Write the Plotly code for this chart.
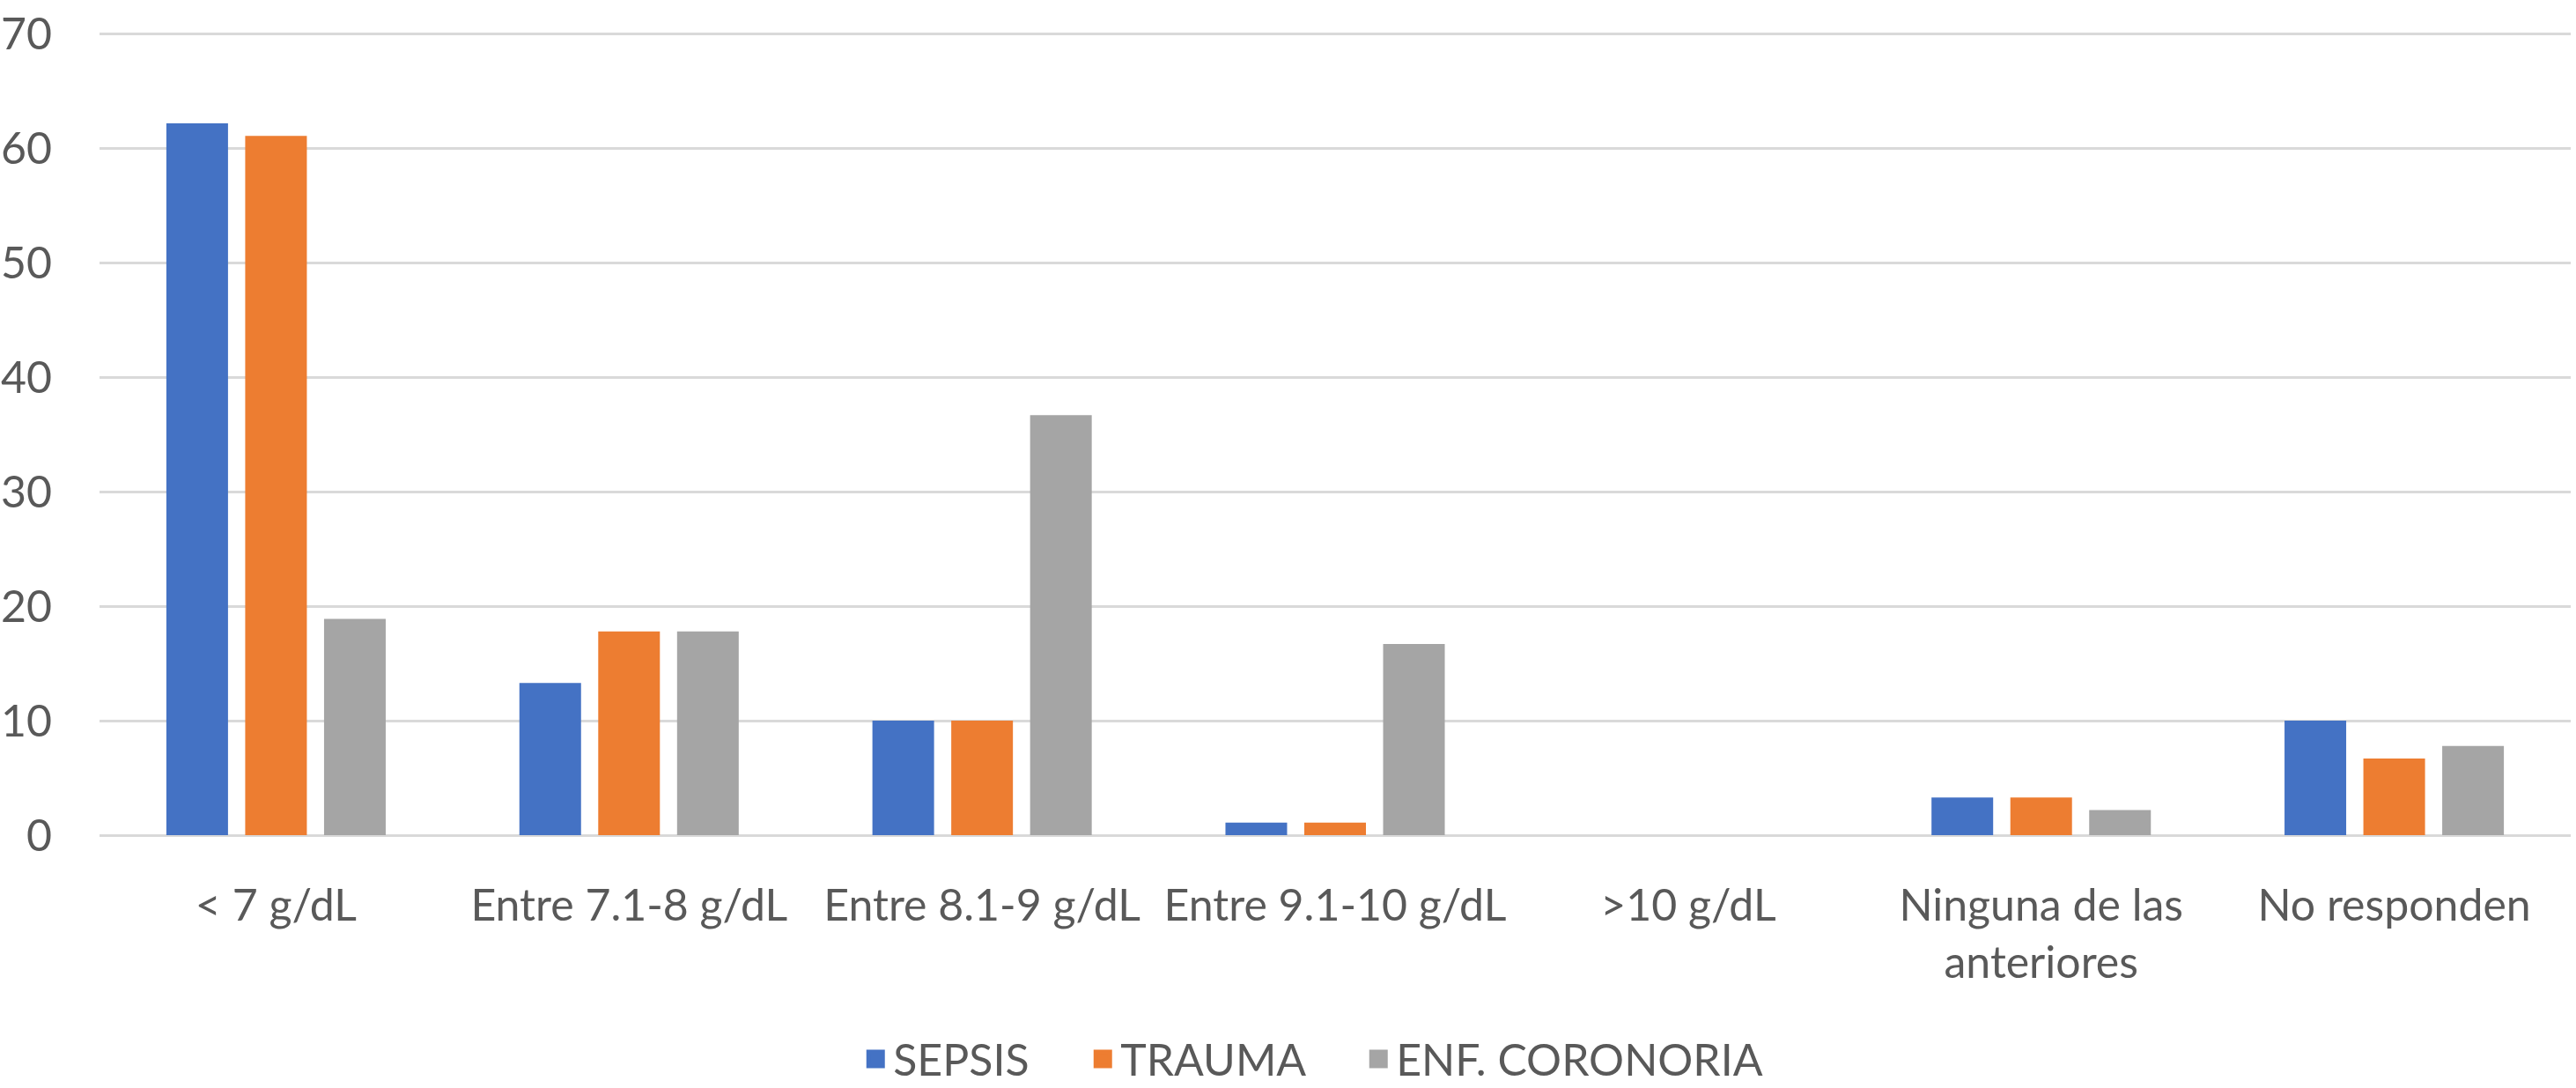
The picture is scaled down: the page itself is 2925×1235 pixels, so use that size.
import plotly.graph_objects as go

categories = ["< 7 g/dL", "Entre 7.1-8 g/dL", "Entre 8.1-9 g/dL", "Entre 9.1-10 g/dL",
              ">10 g/dL", "Ninguna de las<br>anteriores", "No responden"]
sepsis = [62.2, 13.3, 10.0, 1.1, 0, 3.3, 10.0]
trauma = [61.1, 17.8, 10.0, 1.1, 0, 3.3, 6.7]
coronaria = [18.9, 17.8, 36.7, 16.7, 0, 2.2, 7.8]
series_names = ["SEPSIS", "TRAUMA", "ENF. CORONORIA"]
colors = ["#4472C4", "#ED7D31", "#A5A5A5"]
legend_widths = [213, 268, None]
y_ticks = [0, 10, 20, 30, 40, 50, 60, 70]

FONT = "Lato"
TXT = "#595959"
FS = 50

fig = go.Figure()
for name, vals, col in zip(series_names, [sepsis, trauma, coronaria], colors):
    fig.add_trace(go.Bar(x=categories, y=vals, name=name, showlegend=False,
                         marker=dict(color=col, line=dict(width=0))))

# legend entries (square swatches)
for name, col, lw in zip(series_names, colors, legend_widths):
    kw = dict(legendwidth=lw) if lw else {}
    fig.add_trace(go.Scatter(x=[None], y=[None], mode="markers", name=name, showlegend=True,
                             marker=dict(symbol="square", size=16, color=col,
                                         line=dict(color=col, width=5)),
                             hoverinfo="skip", **kw))

fig.update_layout(
    width=2925, height=1235,
    paper_bgcolor="white", plot_bgcolor="white",
    barmode="group", bargap=0.33, bargroupgap=0.218,
    margin=dict(l=113, r=6, t=36, b=287, autoexpand=False),
    font=dict(family=FONT, size=FS, color=TXT),
    showlegend=True,
    legend=dict(orientation="h", x=0.491, xanchor="center",
                y=-0.2785, yanchor="middle",
                font=dict(family=FONT, size=FS, color=TXT), itemwidth=30,
                bgcolor="rgba(0,0,0,0)"),
)
fig.update_xaxes(showgrid=False, showline=False, zeroline=False, ticks="",
                 tickfont=dict(family=FONT, size=FS, color=TXT), ticklabelstandoff=46,
                 automargin=False, tickangle=0)
fig.update_yaxes(range=[0, 70.2], tickvals=y_ticks, showgrid=True, gridcolor="#D9D9D9", gridwidth=3,
                 zeroline=True, zerolinecolor="#D9D9D9", zerolinewidth=3, showline=False,
                 tickfont=dict(family=FONT, size=FS, color=TXT), ticks="", ticklabelstandoff=53,
                 ticklabeloverflow="allow", automargin=False)

fig.write_html("out.html", config={"displayModeBar": False},
               post_script="document.body.style.margin='0';document.body.style.overflow='hidden';")
